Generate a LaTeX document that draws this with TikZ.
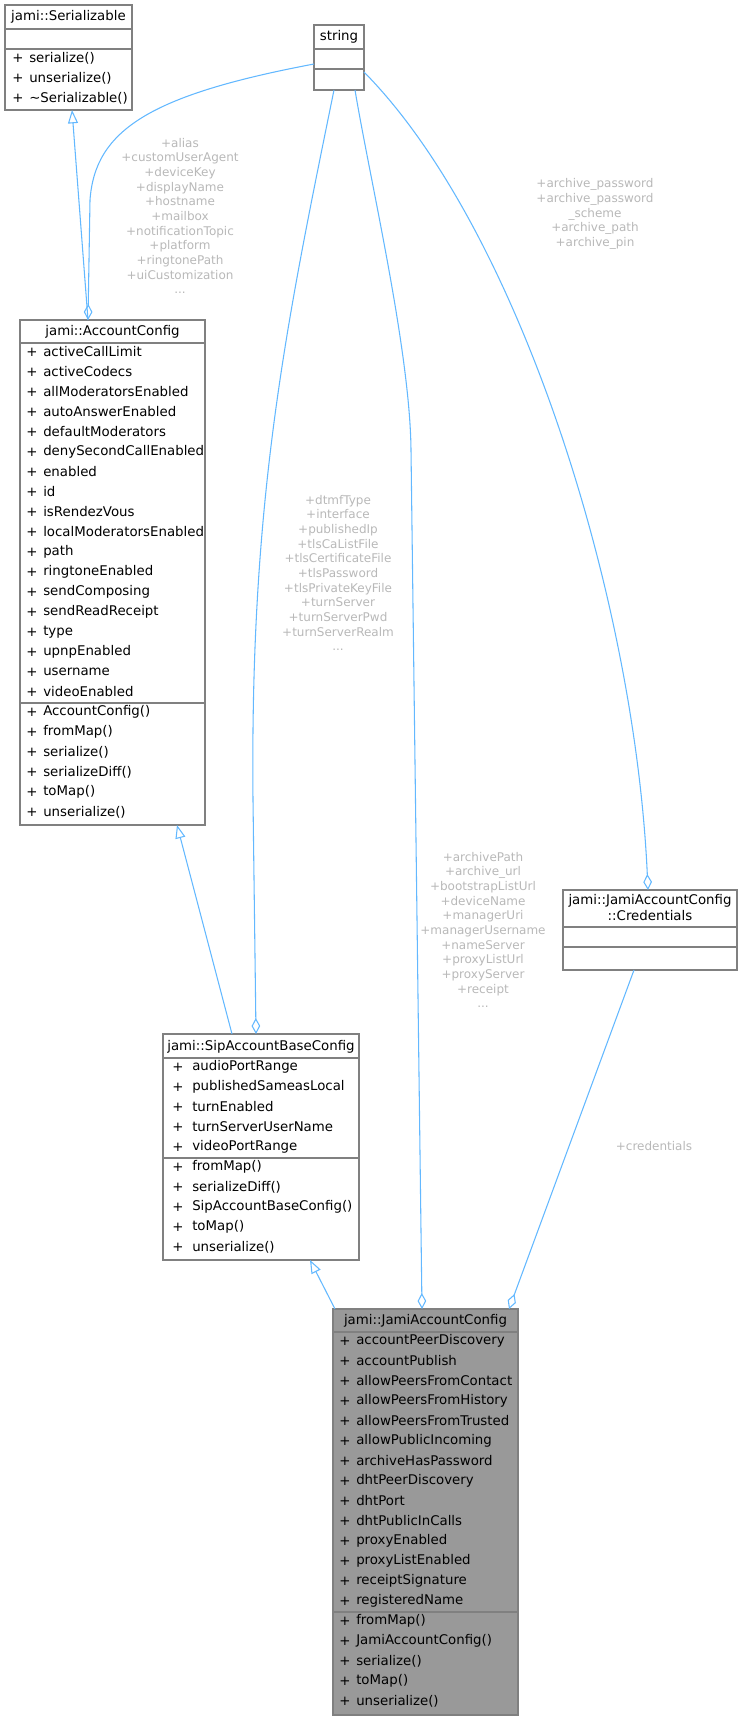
\documentclass[tikz,border=0pt]{standalone}
\usepackage{fontspec}
\setmainfont{DejaVu Sans}
\usetikzlibrary{arrows.meta}
\definecolor{edge}{HTML}{63B8FF}
\definecolor{bord}{HTML}{808080}
\definecolor{lab}{HTML}{B8B8B8}
\tikzset{
  cls/.style={draw=bord, line width=0.9pt, anchor=north west, inner sep=0, outer sep=0},
  row/.style={anchor=west, inner sep=0, font=\fontsize{10}{12}\selectfont},
  ttl/.style={inner sep=0, font=\fontsize{10}{12}\selectfont, align=center},
  sep/.style={draw=bord, line width=0.9pt},
  conn/.style={draw=edge, line width=0.8pt},
  inh/.style={conn, -{Triangle[open,length=10pt,width=7.5pt]}},
  agg/.style={conn, {Diamond[open,length=12pt,width=6.5pt]}-},
  elab/.style={inner sep=0, text=lab, align=center, font=\fontsize{9}{11}\selectfont}
}
\begin{document}
\begin{tikzpicture}[x=0.75pt,y=-0.75pt]
\useasboundingbox (0,0) rectangle (742,1720);
% Serializable
\node[cls, minimum width=127*0.75pt, minimum height=105*0.75pt] (ser) at (5,5) {};
\node[ttl] (sert) at (68.5,17) {jami::Serializable};
\draw[sep] (5,29) -- (132,29) (5,49) -- (132,49);
\foreach \t [count=\i from 0] in {serialize(),unserialize(),\textasciitilde Serializable()}{
  \node[row] at (12,58+20*\i) {+};
  \node[row] at (29,58+20*\i) {\t};
}
% string
\node[cls, minimum width=50*0.75pt, minimum height=65*0.75pt] (str) at (314,25) {};
\node[ttl] (strt) at (339,37) {string};
\draw[sep] (314,49) -- (364,49) (314,69) -- (364,69);
% AccountConfig
\node[cls, minimum width=185*0.75pt, minimum height=505*0.75pt] (ac) at (20,320) {};
\node[ttl] (act) at (112.5,332) {jami::AccountConfig};
\draw[sep] (20,343) -- (205,343) (20,703) -- (205,703);
\foreach \t [count=\i from 0] in {activeCallLimit,activeCodecs,allModeratorsEnabled,autoAnswerEnabled,defaultModerators,denySecondCallEnabled,enabled,id,isRendezVous,localModeratorsEnabled,path,ringtoneEnabled,sendComposing,sendReadReceipt,type,upnpEnabled,username,videoEnabled}{
  \node[row] at (26,352+20*\i) {+};
  \node[row] at (43,352+20*\i) {\t};
}
\foreach \t [count=\i from 0] in {AccountConfig(),fromMap(),serialize(),serializeDiff(),toMap(),unserialize()}{
  \node[row] at (26,712+20*\i) {+};
  \node[row] at (43,712+20*\i) {\t};
}
% SipAccountBaseConfig
\node[cls, minimum width=196*0.75pt, minimum height=226*0.75pt] (sip) at (163,1034) {};
\node[ttl] (sipt) at (261,1047) {jami::SipAccountBaseConfig};
\draw[sep] (163,1058) -- (359,1058) (163,1158) -- (359,1158);
\foreach \t [count=\i from 0] in {audioPortRange,publishedSameasLocal,turnEnabled,turnServerUserName,videoPortRange}{
  \node[row] at (172,1067+20*\i) {+};
  \node[row] at (192,1067+20*\i) {\t};
}
\foreach \t [count=\i from 0] in {fromMap(),serializeDiff(),SipAccountBaseConfig(),toMap(),unserialize()}{
  \node[row] at (172,1167+20*\i) {+};
  \node[row] at (192,1167+20*\i) {\t};
}
% Credentials
\node[cls, minimum width=174*0.75pt, minimum height=80*0.75pt] (cred) at (563,890) {};
\node[ttl] (credt) at (650,908) {jami::JamiAccountConfig\\::Credentials};
\draw[sep] (563,927) -- (737,927) (563,947) -- (737,947);
% JamiAccountConfig
\node[cls, fill={rgb,255:red,153;green,153;blue,153}, minimum width=185*0.75pt, minimum height=406*0.75pt] (jami) at (333,1309) {};
\node[ttl] (jamit) at (425.5,1321) {jami::JamiAccountConfig};
\draw[sep] (333,1332) -- (518,1332) (333,1612) -- (518,1612);
\foreach \t [count=\i from 0] in {accountPeerDiscovery,accountPublish,allowPeersFromContact,allowPeersFromHistory,allowPeersFromTrusted,allowPublicIncoming,archiveHasPassword,dhtPeerDiscovery,dhtPort,dhtPublicInCalls,proxyEnabled,proxyListEnabled,receiptSignature,registeredName}{
  \node[row] at (339,1341+20*\i) {+};
  \node[row] at (356,1341+20*\i) {\t};
}
\foreach \t [count=\i from 0] in {fromMap(),JamiAccountConfig(),serialize(),toMap(),unserialize()}{
  \node[row] at (339,1621+20*\i) {+};
  \node[row] at (356,1621+20*\i) {\t};
}
% connection points
\coordinate (acTop) at (88,320);
\coordinate (serBot) at (72,110);
\coordinate (strL) at (314,64);
\coordinate (strB1) at (334,90);
\coordinate (strB2) at (355,90);
\coordinate (strR) at (364,72);
\coordinate (acBot) at (177,825);
\coordinate (sipTopA) at (232,1034);
\coordinate (sipTopB) at (256,1034);
\coordinate (sipBot) at (310,1260);
\coordinate (jamiA) at (335,1309);
\coordinate (jamiB) at (422,1309);
\coordinate (jamiC) at (509,1309);
\coordinate (credTop) at (648,890);
\coordinate (credBot) at (634,970);
% edges
\draw[inh] (acTop) -- (serBot);
\draw[agg] (acTop) -- (90,200) .. controls (95,130) and (150,95) .. (strL);
\draw[inh] (sipTopA) -- (acBot);
\draw[agg] (sipTopB) -- (253,800) .. controls (250,500) and (285,330) .. (strB1);
\draw[agg] (jamiB) -- (411,450) .. controls (410,350) and (370,180) .. (strB2);
\draw[agg] (credTop) .. controls (635,600) and (520,230) .. (strR);
\draw[inh] (jamiA) -- (sipBot);
\draw[agg] (jamiC) -- (credBot);
% labels
\node[elab] (l1) at (180,216) {+alias\\+customUserAgent\\+deviceKey\\+displayName\\+hostname\\+mailbox\\+notificationTopic\\+platform\\+ringtonePath\\+uiCustomization\\...};
\node[elab] (l2) at (338,573) {+dtmfType\\+interface\\+publishedIp\\+tlsCaListFile\\+tlsCertificateFile\\+tlsPassword\\+tlsPrivateKeyFile\\+turnServer\\+turnServerPwd\\+turnServerRealm\\...};
\node[elab] (l3) at (483,930) {+archivePath\\+archive\_url\\+bootstrapListUrl\\+deviceName\\+managerUri\\+managerUsername\\+nameServer\\+proxyListUrl\\+proxyServer\\+receipt\\...};
\node[elab] (l4) at (595,214) {+archive\_password\\+archive\_password\\\_scheme\\+archive\_path\\+archive\_pin};
\node[elab] (l5) at (654,1146) {+credentials};
\end{tikzpicture}
\end{document}
